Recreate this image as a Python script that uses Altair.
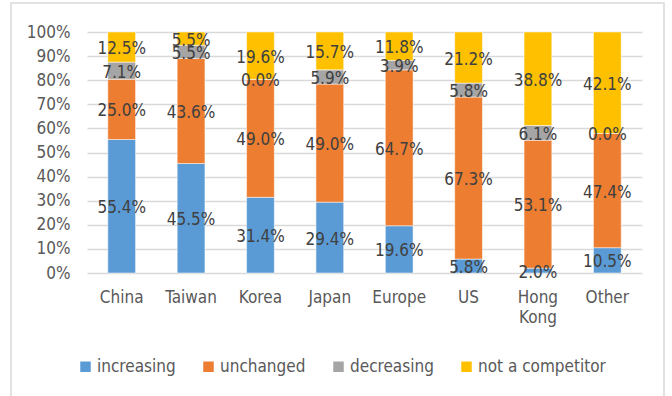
import altair as alt
import pandas as pd

regions = ["China", "Taiwan", "Korea", "Japan", "Europe", "US", "Hong Kong", "Other"]
statuses = ["increasing", "unchanged", "decreasing", "not a competitor"]
colors = ["#5b9bd5", "#ed7d31", "#a5a5a5", "#ffc000"]

increasing = [55.4, 45.5, 31.4, 29.4, 19.6, 5.8, 2.0, 10.5]
unchanged = [25.0, 43.6, 49.0, 49.0, 64.7, 67.3, 53.1, 47.4]
decreasing = [7.1, 5.5, 0.0, 5.9, 3.9, 5.8, 6.1, 0.0]
not_competitor = [12.5, 5.5, 19.6, 15.7, 11.8, 21.2, 38.8, 42.1]

series = [increasing, unchanged, decreasing, not_competitor]
rows = []
for k, (status, vals) in enumerate(zip(statuses, series)):
    for region, v in zip(regions, vals):
        rows.append({"region": region, "status": status, "order": k, "value": v})
df = pd.DataFrame(rows)

FONT = "DejaVu Sans Condensed"
TEXT = "#595959"

base = alt.Chart(df).transform_stack(
    stack="value", groupby=["region"], as_=["y0", "y1"],
    sort=[alt.SortField("order", "ascending")], offset="normalize"
).transform_calculate(
    mid="(datum.y0 + datum.y1) / 2",
    label="format(datum.value, '.1f') + '%'"
)

x_axis = alt.Axis(
    labelAngle=0, labelFont=FONT, labelFontSize=17, labelColor=TEXT,
    labelPadding=16, ticks=False, domain=False, labelLineHeight=20,
    labelExpr="datum.label == 'Hong Kong' ? ['Hong', 'Kong'] : datum.label",
)
x_scale = alt.Scale(paddingInner=0.6, paddingOuter=0.3)

y_axis = alt.Axis(
    format=".0%", values=[i / 10 for i in range(11)],
    labelFont=FONT, labelFontSize=17, labelColor=TEXT,
    labelPadding=17, ticks=False, domain=False,
    labelOverlap=False, labelBaseline="middle",
    gridColor="#d9d9d9", gridWidth=1.5,
)
y_scale = alt.Scale(domain=[0, 1])

bars = base.mark_bar(stroke="white", strokeWidth=0.5).encode(
    x=alt.X("region:N", sort=regions, title=None, scale=x_scale, axis=x_axis),
    y=alt.Y("y0:Q", title=None, scale=y_scale, axis=y_axis),
    y2="y1:Q",
    color=alt.Color(
        "status:N", sort=statuses,
        scale=alt.Scale(domain=statuses, range=colors),
        legend=alt.Legend(
            title=None, orient="none", direction="horizontal",
            legendX=-10, legendY=326,
            symbolType="square", symbolSize=110, symbolStrokeWidth=0,
            labelFont=FONT, labelFontSize=17, labelColor=TEXT,
            columnPadding=24, symbolOffset=0, labelOffset=3,
        ),
    ),
    order=alt.Order("order:Q"),
)

labels = base.mark_text(font=FONT, fontSize=17, color="#404040", dy=2).encode(
    x=alt.X("region:N", sort=regions, title=None, scale=x_scale, axis=x_axis),
    y=alt.Y("mid:Q", title=None, scale=y_scale, axis=y_axis),
    text="label:N",
)

frame = alt.Chart(pd.DataFrame({"f": [0]})).mark_rect(
    fill=None, stroke="#d9d9d9", strokeWidth=1.5
).encode(
    x=alt.value(-76), x2=alt.value(577), y=alt.value(-29), y2=alt.value(400)
)

chart = alt.layer(frame, bars, labels).properties(
    width=555, height=241,
    padding={"left": 87, "top": 32, "right": 30, "bottom": 123},
    autosize=alt.AutoSizeParams(type="none"),
    background="white",
).configure_view(stroke=None)

chart.save("out.html", embed_options={"renderer": "svg", "actions": False})
